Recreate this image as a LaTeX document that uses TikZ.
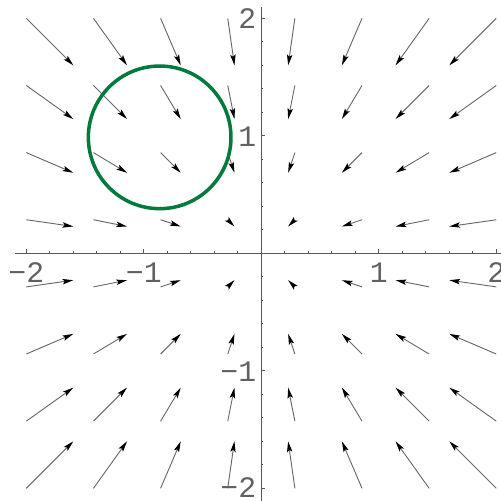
\documentclass[tikz,border=0pt]{standalone}
\usepackage{fontspec}
\setmonofont{Liberation Mono}
\usetikzlibrary{arrows.meta}
\definecolor{circgreen}{RGB}{0,122,61}
\definecolor{axisgray}{gray}{0.35}
\begin{document}
\begin{tikzpicture}[x=1cm,y=1cm,
  vec/.style={line width=0.22pt, black!60, -{Stealth[length=2.6pt,width=1.3pt,inset=0.5pt,color=black]}},
  axisline/.style={line width=0.3pt, axisgray},
  tickmark/.style={line width=0.25pt, axisgray},
  lbl/.style={font=\ttfamily\fontsize{7.2}{7.2}\selectfont, text=black!62, inner sep=0pt},
  ring/.style={line width=0.85pt, circgreen}]
\useasboundingbox (-2.224,-2.108) rectangle (2.040,2.156);
% axes
\draw[axisline] (-2.096,0) -- (2.2,0);
\draw[axisline] (0,-2.2) -- (0,2.096);
% ticks
\foreach \t in {-2,-1.8,...,2.01}{
  \draw[tickmark] (\t,0) -- (\t,0.018);
  \draw[tickmark] (0,\t) -- (0.018,\t);
}
\foreach \t in {-2,-1,1,2}{
  \draw[tickmark] (\t,0) -- (\t,0.035);
  \draw[tickmark] (0,\t) -- (0.035,\t);
}
% labels
\node[lbl, anchor=north] (lxm2) at (-2,-0.075) {−2};
\node[lbl, anchor=north] (lxm1) at (-1,-0.075) {−1};
\node[lbl, anchor=north] (lx1) at (1,-0.075) {1};
\node[lbl, anchor=north] (lx2) at (2,-0.075) {2};
\node[lbl, anchor=east] (ly2) at (-0.037,1.994) {2};
\node[lbl, anchor=east] (ly1) at (-0.037,0.99) {1};
\node[lbl, anchor=east] (lym1) at (-0.037,-1.01) {−1};
\node[lbl, anchor=east] (lym2) at (-0.037,-1.99) {−2};
% vector field
\foreach \i in {0,...,7}{
  \foreach \j in {0,...,7}{
    \pgfmathsetmacro\px{-2+\i*4/7}
    \pgfmathsetmacro\py{-2+\j*4/7}
    \draw[vec] (\px,\py) -- ++({-0.2*\px},{-0.2*\py});
  }
}
% circle
\node[draw=none, inner sep=0pt] (cc) at (-0.865,0.987) {};
\draw[ring] (cc) circle (0.607);
\end{tikzpicture}
\end{document}
